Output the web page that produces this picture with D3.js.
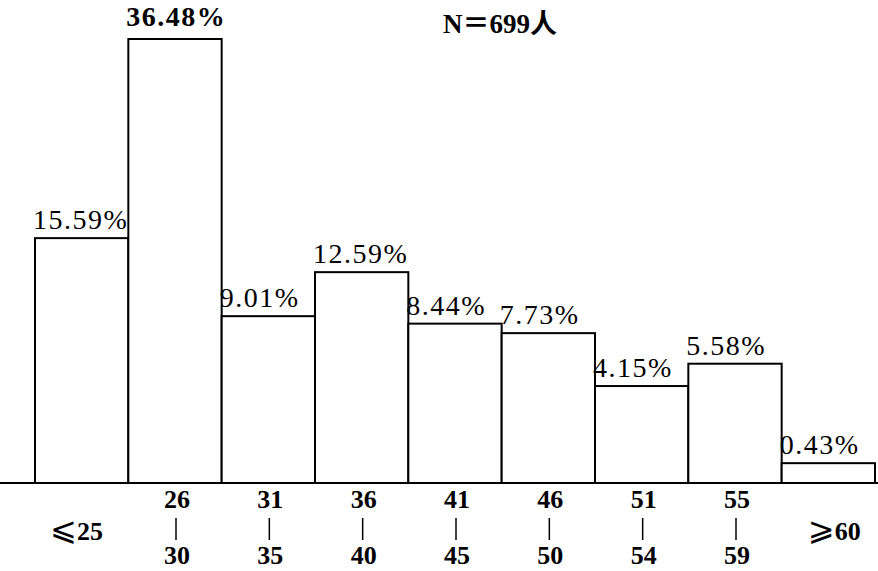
<!DOCTYPE html>
<html><head><meta charset="utf-8">
<script src="https://cdn.jsdelivr.net/npm/d3@7"></script>
<style>html,body{margin:0;padding:0;background:#fff;}svg{display:block;}</style>
</head><body>
<script>
const categories = ["⩽25","26-30","31-35","36-40","41-45","46-50","51-54","55-59","⩾60"];
const percents = [15.59, 36.48, 9.01, 12.59, 8.44, 7.73, 4.15, 5.58, 0.43];
const labels = ["15.59%","36.48%","9.01%","12.59%","8.44%","7.73%","4.15%","5.58%","0.43%"];
const note = "N＝699人";

const W = 878, H = 571;
const base = 483;
const svg = d3.select("body").append("svg").attr("width", W).attr("height", H);

const x = d3.scaleBand().domain(categories).range([35, 875]).padding(0);
const y = d3.scalePow().exponent(0.7).domain([0, 36.48]).range([base, 39]);

const data = categories.map((c, i) => ({c, v: percents[i], l: labels[i]}));

svg.selectAll("rect.bar").data(data).enter().append("rect")
  .attr("class", "bar")
  .attr("x", d => x(d.c)).attr("y", d => y(d.v))
  .attr("width", x.bandwidth()).attr("height", d => base - y(d.v))
  .attr("fill", "#fff").attr("stroke", "#000").attr("stroke-width", 2);

svg.append("line").attr("x1", 0).attr("x2", W).attr("y1", base).attr("y2", base)
  .attr("stroke", "#000").attr("stroke-width", 2.2);

svg.selectAll("text.val").data(data).enter().append("text")
  .attr("class", "val")
  .attr("x", d => x(d.c) - 2)
  .attr("y", d => y(d.v) - (d.v === 36.48 ? 13 : 9))
  .attr("font-family", "'Liberation Serif', serif")
  .attr("font-size", 28)
  .attr("font-weight", d => d.v === 36.48 ? "bold" : "normal")
  .attr("letter-spacing", 1.5)
  .attr("fill", "#000")
  .text(d => d.l);

// category axis labels
const g = svg.append("g").attr("font-family", "'Liberation Serif', serif").attr("font-size", 26).attr("font-weight", "bold");
data.forEach(d => {
  const cx = x(d.c) + x.bandwidth() / 2;
  if (d.c.includes("-")) {
    const [a, b] = d.c.split("-");
    g.append("text").attr("x", cx + 2).attr("y", 508).attr("text-anchor", "middle").text(a);
    g.append("line").attr("x1", cx + 1).attr("x2", cx + 1).attr("y1", 518).attr("y2", 540)
      .attr("stroke", "#000").attr("stroke-width", 1.5);
    g.append("text").attr("x", cx + 2).attr("y", 564).attr("text-anchor", "middle").text(b);
  } else {
    const sym = d.c[0], num = d.c.slice(1);
    const t = g.append("text").attr("x", cx + (sym === "⩽" ? -5 : 6)).attr("y", 540).attr("text-anchor", "middle");
    t.append("tspan").attr("font-family", "'DejaVu Sans', sans-serif").attr("font-weight", "normal").attr("font-size", 32).text(sym);
    t.append("tspan").text(num);
  }
});

svg.append("text").attr("x", 443).attr("y", 33)
  .attr("font-family", "'Liberation Serif', 'Noto Sans CJK SC', serif")
  .attr("font-size", 27).attr("font-weight", "bold").text(note);
</script>
</body></html>
